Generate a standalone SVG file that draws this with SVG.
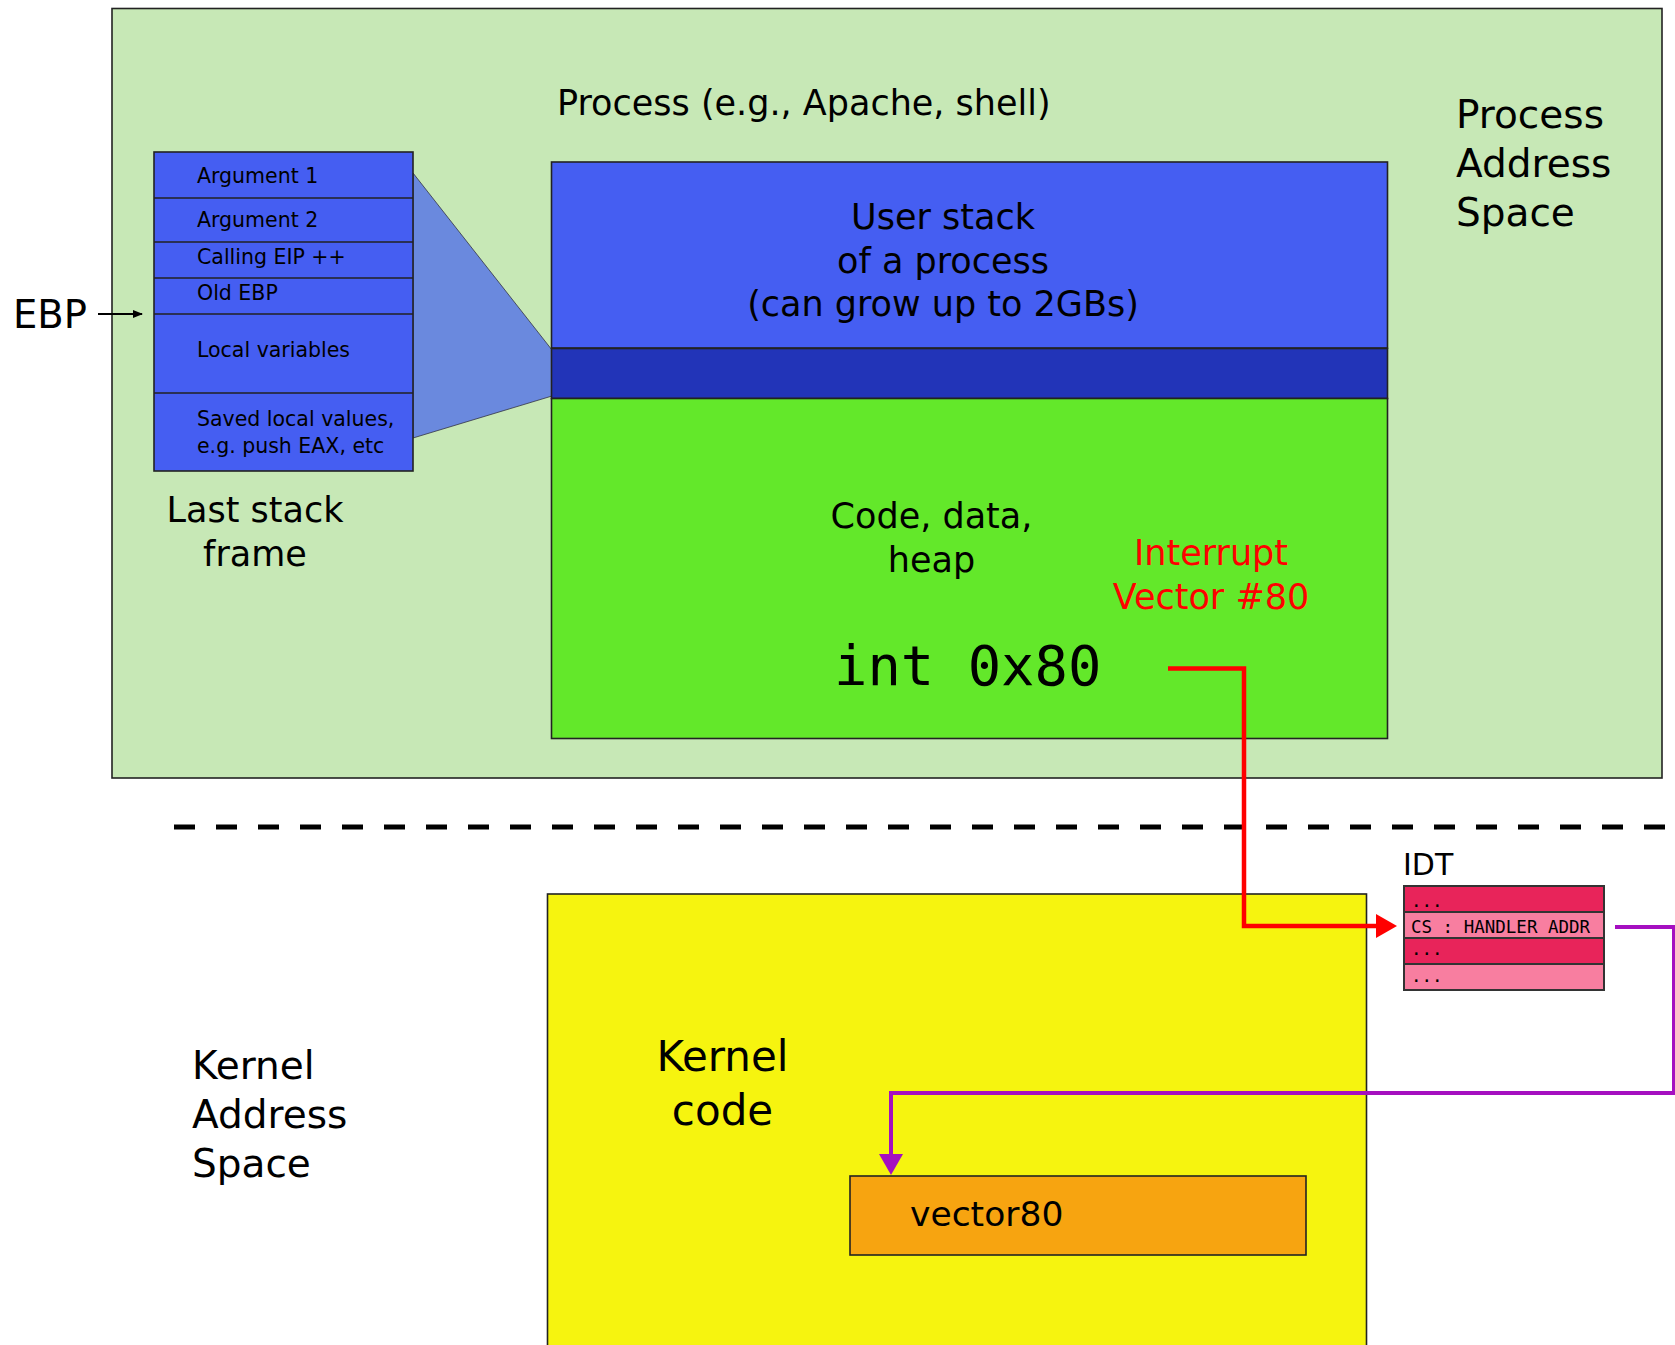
<svg xmlns="http://www.w3.org/2000/svg" width="1675" height="1345" viewBox="0 0 1675 1345">
<style>
.t{font-family:"DejaVu Sans","Liberation Sans",sans-serif;fill:#000}
.m{font-family:"DejaVu Sans Mono","Liberation Mono",monospace;fill:#000}
.box{stroke:#222;stroke-width:1.6}
.row{stroke:#222;stroke-width:1.3;fill:none}
.sf{font-size:20.5px}
.big{font-size:35px}
.lbl{font-size:39px}
</style>
<defs>
<marker id="ahBlack" markerWidth="10" markerHeight="8" refX="9" refY="4" orient="auto" markerUnits="userSpaceOnUse">
<path d="M0,0 L10,4 L0,8 z" fill="#000"/>
</marker>
</defs>
<rect width="1675" height="1345" fill="#fff"/>

<g id="process-space">
<rect class="box" x="112" y="8.5" width="1550" height="769.5" fill="#c7e8b6"/>
<text class="t big" x="557" y="115">Process (e.g., Apache, shell)</text>
<text class="t lbl" x="1456" y="128">Process</text>
<text class="t lbl" x="1456" y="177">Address</text>
<text class="t lbl" x="1456" y="226">Space</text>
</g>

<g id="zoom-wedge">
<polygon points="413,173 552,350 552,396 413,438" fill="#6a89de" stroke="#334" stroke-width="0.8"/>
</g>

<g id="stack-frame">
<rect class="box" x="154" y="152" width="259" height="319" fill="#455ef2"/>
<line class="row" x1="154" y1="198" x2="413" y2="198"/>
<line class="row" x1="154" y1="242" x2="413" y2="242"/>
<line class="row" x1="154" y1="278" x2="413" y2="278"/>
<line class="row" x1="154" y1="314" x2="413" y2="314"/>
<line class="row" x1="154" y1="393" x2="413" y2="393"/>
<text class="t sf" x="197" y="183">Argument 1</text>
<text class="t sf" x="197" y="227">Argument 2</text>
<text class="t sf" x="197" y="264">Calling EIP ++</text>
<text class="t sf" x="197" y="300">Old EBP</text>
<text class="t sf" x="197" y="357">Local variables</text>
<text class="t sf" x="197" y="426">Saved local values,</text>
<text class="t sf" x="197" y="453">e.g. push EAX, etc</text>
<text class="t big" x="255" y="522" text-anchor="middle">Last stack</text>
<text class="t big" x="255" y="566" text-anchor="middle">frame</text>
</g>

<g id="ebp">
<text class="t" font-size="38.5" x="13" y="328">EBP</text>
</g>

<g id="user-stack">
<rect class="box" x="551.5" y="162" width="836" height="186" fill="#455ef2"/>
<text class="t big" x="943" y="229" text-anchor="middle">User stack</text>
<text class="t big" x="943" y="272.5" text-anchor="middle">of a process</text>
<text class="t big" x="943" y="316" text-anchor="middle">(can grow up to 2GBs)</text>
</g>

<g id="stack-band">
<rect class="box" x="551.5" y="348.5" width="836" height="50" fill="#2234b8"/>
</g>

<g id="code-data-heap">
<rect class="box" x="551.5" y="398.5" width="836" height="340" fill="#63e82a"/>
<text class="t big" x="931.5" y="528" text-anchor="middle">Code, data,</text>
<text class="t big" x="931.5" y="571.5" text-anchor="middle">heap</text>
<text class="t big" x="1211" y="565" text-anchor="middle" style="fill:#ff0000">Interrupt</text>
<text class="t big" x="1211" y="609" text-anchor="middle" style="fill:#ff0000">Vector #80</text>
<text class="m" font-size="55.5" x="834" y="685">int 0x80</text>
</g>

<g id="boundary">
<line x1="174" y1="827" x2="1675" y2="827" stroke="#000" stroke-width="5" stroke-dasharray="21,21"/>
</g>

<g id="kernel-code">
<rect class="box" x="547.5" y="894" width="819" height="500" fill="#f6f40f"/>
<text class="t" font-size="42" x="722.5" y="1071" text-anchor="middle">Kernel</text>
<text class="t" font-size="42" x="722.5" y="1125" text-anchor="middle">code</text>
</g>

<g id="kernel-label">
<text class="t lbl" x="192" y="1079">Kernel</text>
<text class="t lbl" x="192" y="1128">Address</text>
<text class="t lbl" x="192" y="1177">Space</text>
</g>

<g id="vector80">
<rect class="box" x="850" y="1176" width="456" height="79" fill="#f7a410"/>
<text class="t" font-size="34.5" x="910" y="1226">vector80</text>
</g>

<g id="idt">
<text class="t" font-size="30" x="1403" y="875">IDT</text>
<rect x="1404" y="886" width="200" height="26" fill="#e8245a"/>
<rect x="1404" y="912" width="200" height="26" fill="#f87ea0"/>
<rect x="1404" y="938" width="200" height="26" fill="#e8245a"/>
<rect x="1404" y="964" width="200" height="26" fill="#f87ea0"/>
<rect x="1404" y="886" width="200" height="104" fill="none" stroke="#333" stroke-width="2"/>
<line x1="1404" y1="912" x2="1604" y2="912" stroke="#333" stroke-width="2"/>
<line x1="1404" y1="938" x2="1604" y2="938" stroke="#333" stroke-width="2"/>
<line x1="1404" y1="964" x2="1604" y2="964" stroke="#333" stroke-width="2"/>
<text class="m" font-size="17.5" x="1411" y="907">...</text>
<text class="m" font-size="17.5" x="1411" y="933">CS : HANDLER ADDR</text>
<text class="m" font-size="17.5" x="1411" y="955">...</text>
<text class="m" font-size="17.5" x="1411" y="982">...</text>
</g>

<g id="connectors">
<line x1="98" y1="314" x2="142" y2="314" stroke="#000" stroke-width="2" marker-end="url(#ahBlack)"/>
<polyline points="1168,668.5 1244,668.5 1244,926 1378,926" fill="none" stroke="#ff0000" stroke-width="4.5"/>
<polygon points="1376,914 1397,926 1376,938" fill="#ff0000"/>
<polyline points="1615,927 1674,927 1674,1093 891,1093 891,1156" fill="none" stroke="#a50fc0" stroke-width="4"/>
<polygon points="879,1154 903,1154 891,1175" fill="#a50fc0"/>
</g>
</svg>
